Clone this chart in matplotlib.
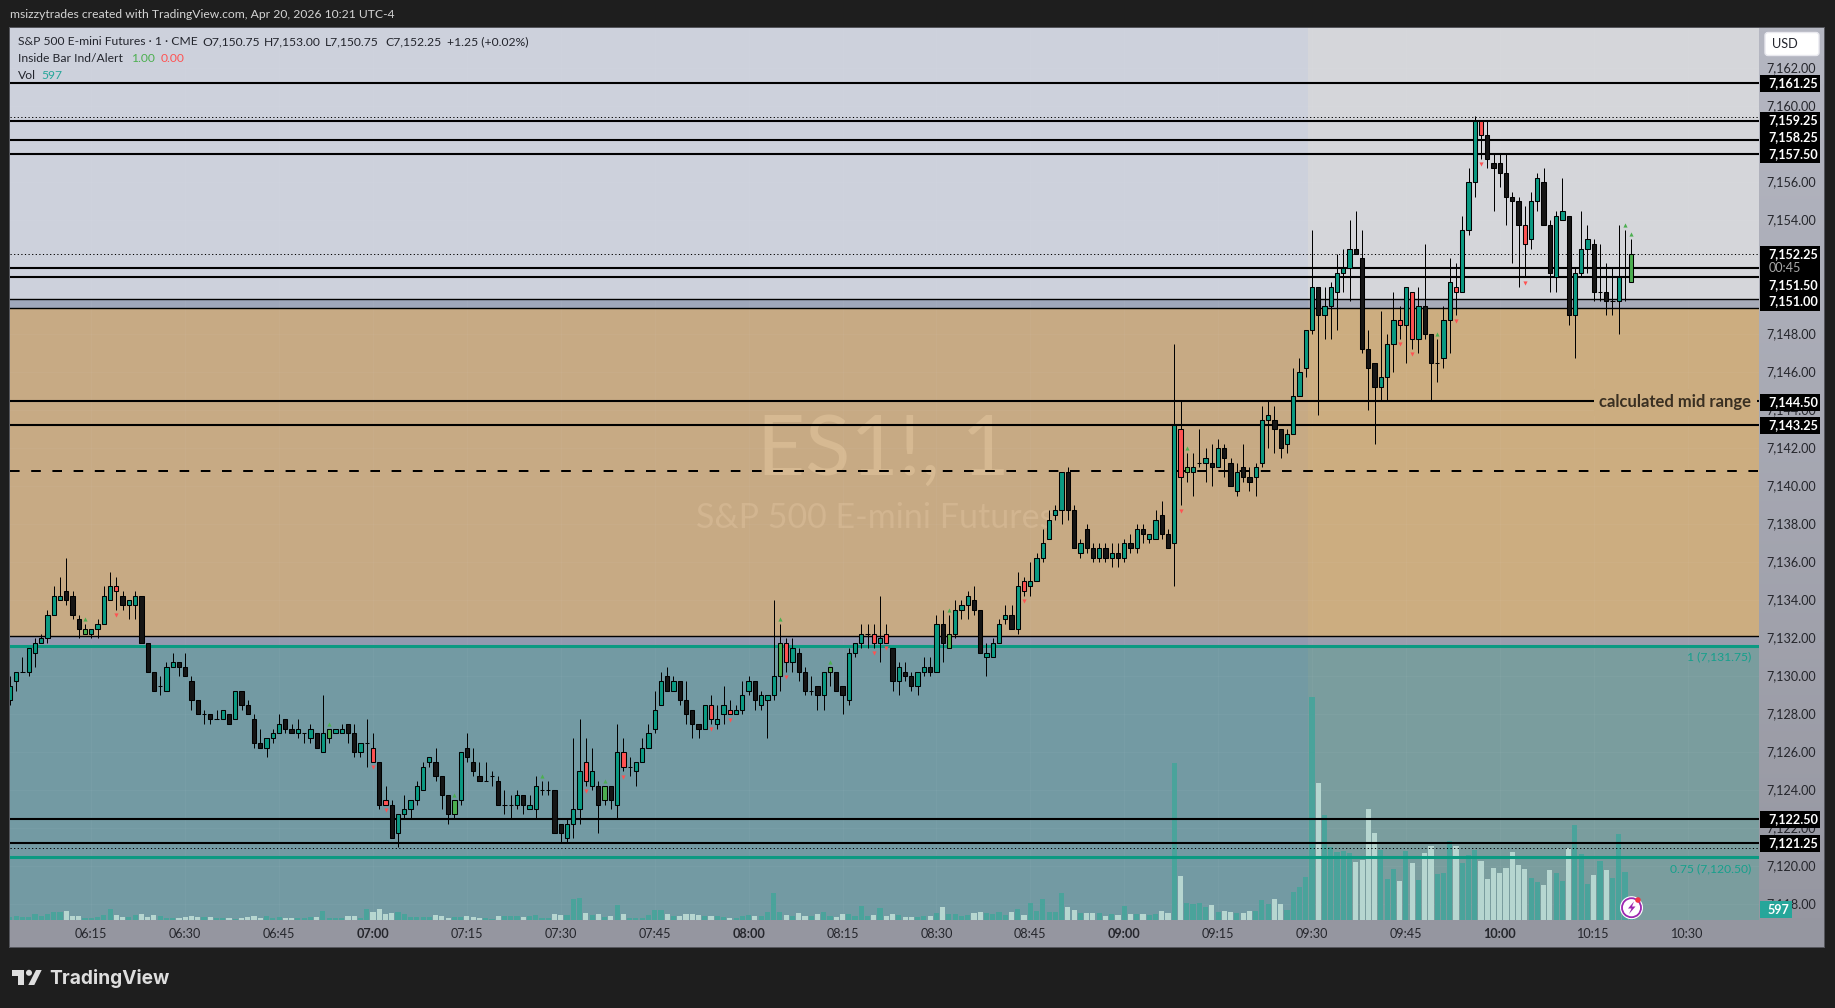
#!/usr/bin/env python3
import numpy as np
import matplotlib
matplotlib.use("Agg")
import matplotlib.pyplot as plt
from matplotlib.colors import LinearSegmentedColormap
from matplotlib.patches import Rectangle, Circle, Polygon, FancyBboxPatch
from matplotlib.transforms import Affine2D, ScaledTranslation

W, H = 1835, 1008
plt.rcParams['font.family'] = ['Lato', 'DejaVu Sans']

# ES1! 1 minute bars, prices are minus 7100, first bar is 06:02
FIRST_MINUTE = 362
PRICE_BASE = 7100
opens = [
    28.75, 29.75, 30.25, 30.25, 31.25, 31.75, 32, 33.25, 34, 34.5,
    34.25, 33, 32.25, 32.25, 32.5, 32.75, 34, 34.75, 34.25, 33.75,
    33.75, 34.25, 31.75, 30.25, 29.5, 29.25, 30.5, 30.75, 30.5, 29.75,
    28.75, 28, 28, 27.75, 27.75, 28, 27.75, 29.25, 28.5, 27.75,
    26.5, 26.25, 26.75, 27, 27.75, 27.25, 27, 27, 26.75, 27,
    26, 26.75, 27, 27, 27.5, 27, 26, 26.5, 26.25, 25.5,
    23.5, 23.25, 21.75, 22.75, 23, 23.5, 24, 25.5, 25.5, 24.75,
    23.75, 22.75, 23.5, 26.25, 25.5, 24.75, 24.5, 24.75, 24.5, 23.25,
    23.25, 23.25, 23.75, 23, 23, 24, 24, 24, 22.25, 21.5,
    22.25, 23, 25.5, 24.25, 24.25, 23.5, 24.25, 23.25, 26, 25.25,
    25, 25.5, 26.25, 27.25, 28.5, 30, 29.25, 29.75, 28.75, 28.25,
    27.5, 27.25, 28.5, 27.5, 28, 28.25, 28, 28.25, 29.25, 29.75,
    28.5, 28.75, 29, 30, 31.75, 30.75, 31.25, 30.25, 29.25, 29.5,
    29, 30.25, 30.25, 29.5, 28.75, 31.25, 31.75, 32.25, 32.25, 31.75,
    32.25, 31.5, 29.75, 30.25, 30, 29.5, 30.25, 30.5, 30.25, 32.75,
    31.5, 32.25, 33.5, 33.75, 34, 33.5, 31, 31, 31.75, 33,
    33.25, 32.5, 35, 34.75, 35, 36.25, 37.25, 38.5, 38.75, 40.75,
    38.75, 36.5, 37.75, 36.75, 36.25, 36.75, 36.25, 36.5, 36.25, 37,
    36.75, 37.75, 37.25, 37.25, 38.5, 37.5, 37, 43, 40.75, 40.75,
    41.25, 41.25, 41.25, 41, 42, 41.25, 39.75, 41, 40.5, 40.5,
    41.25, 43.5, 43.5, 43, 42.25, 42.75, 44.75, 46.25, 48.25, 50.5,
    49, 49.5, 50.25, 51.25, 51.5, 52.5, 52, 47.25, 46.5, 45.25,
    45.75, 47.5, 48.75, 48.5, 50.25, 47.75, 49.5, 48, 46.5, 46.75,
    48.75, 50.5, 50.25, 53.5, 56, 59.25, 58.5, 57, 57, 56.5,
    55.25, 55, 53.75, 53, 55, 56, 53.75, 51, 54, 54.25,
    49, 51.25, 52.5, 52.75, 50.25, 50.25, 49.75, 49.75, 51, 50.75,
]
highs = [
    30, 30.25, 31, 31.5, 32, 32.25, 33.5, 34.75, 35.25, 36.25,
    34.5, 33.25, 32.75, 32.5, 33, 34.75, 35.5, 35.25, 34.5, 34,
    34.5, 34.25, 31.75, 30.25, 30, 30.75, 31.25, 30.75, 31.25, 30,
    28.75, 28.25, 28, 28.25, 28.25, 28, 29.25, 29.25, 28.75, 28,
    27.25, 26.75, 27.25, 28, 27.75, 27.5, 27.75, 27, 27.5, 27,
    29, 27.25, 27.25, 27.5, 27.5, 27.5, 26.5, 27.75, 27, 25.5,
    24.25, 23.5, 22.75, 23.75, 23.5, 24.5, 25.5, 25.75, 26.25, 24.75,
    23.75, 23.5, 26, 27, 26.25, 25.5, 25.5, 25, 24.75, 24,
    23.75, 24, 23.75, 23.75, 24.75, 24.5, 24.5, 24, 22.25, 22.5,
    26.75, 27.75, 26.75, 26.25, 24.5, 24.25, 24.25, 27.5, 26.75, 25.75,
    25.5, 26.75, 27.5, 29.25, 30.25, 30.5, 30, 29.75, 29.75, 28.25,
    27.5, 28.5, 29, 28.5, 29.5, 28.75, 28.5, 29.75, 30, 29.75,
    29.25, 29, 34, 32.75, 32, 32, 31.5, 30.5, 30, 29.5,
    30.25, 30.5, 30.25, 29.5, 31.5, 31.75, 32.75, 32.75, 32.75, 34.25,
    32.75, 31.5, 30.75, 30.75, 30.25, 30.25, 31, 31, 33.25, 33.5,
    33.25, 34, 34, 34.5, 34.75, 33.5, 31.75, 32, 33, 33.75,
    33.75, 35.5, 35.25, 36, 36.5, 37.75, 38.75, 39, 40.75, 41,
    39, 37.25, 38, 37, 37, 37, 37, 37, 37.25, 37.5,
    38, 38, 37.5, 38.75, 39.25, 37.75, 47.5, 44.5, 41.75, 41.75,
    43, 42, 42.25, 42.5, 42.25, 41.5, 41.25, 42.25, 41, 41.25,
    44.25, 44.5, 44.25, 43, 43, 46.25, 46.75, 48.25, 53.5, 50.5,
    50.5, 50.75, 52.25, 52.5, 54, 54.5, 53.5, 48.25, 46.5, 49.25,
    48, 50.25, 49.5, 50.5, 50.25, 50.5, 52.75, 48, 47.75, 49.5,
    52, 51.75, 54.25, 56.75, 59.5, 59.25, 59.25, 57.5, 57.5, 57.5,
    55.5, 55.25, 54.75, 55.5, 56.5, 56.75, 54, 54.5, 56.25, 54.25,
    51.5, 54.5, 53.75, 53, 52.75, 51.75, 51.5, 53.75, 53.5, 53,
]
lows = [
    28.5, 29.25, 30.25, 30, 30.5, 31.75, 31.75, 33.25, 34, 33.75,
    33, 32, 32.25, 32, 32, 32.75, 34, 33.5, 33.5, 33,
    33, 31.75, 30.25, 29.25, 29, 29.25, 30.5, 30, 30, 28.25,
    28, 27.5, 27.5, 27.75, 27.75, 27.5, 27.75, 28.25, 28, 26.25,
    26.25, 25.75, 26.5, 27, 27, 27, 26.75, 26.5, 26.5, 26.25,
    26, 26.5, 27, 27, 26.5, 25.75, 25.75, 25.25, 25.5, 23,
    23.25, 21.5, 21, 22.5, 22.5, 23.25, 24, 25.25, 24.5, 23,
    22.25, 22.5, 23.25, 25.5, 24.75, 24.5, 24.5, 24.25, 23.25, 22.75,
    22.5, 23, 22.75, 23, 22.5, 23.75, 23.75, 21.75, 21.25, 21.25,
    21.5, 22.25, 24.25, 24, 21.75, 23.25, 23, 22.5, 25, 24.75,
    24.25, 25.5, 26.25, 27, 28.5, 29.25, 29.25, 28.5, 27.5, 26.75,
    26.75, 27.25, 27.5, 27.25, 27.5, 28, 28, 28, 29, 28.25,
    28.25, 26.75, 28.75, 29.25, 30.25, 30.25, 29.75, 29, 29, 28.25,
    28.25, 29.5, 29.25, 28, 28.5, 31, 31.5, 31.5, 31.5, 30.75,
    31.75, 29.25, 29, 29.75, 29.25, 29, 30, 30, 30.25, 30.75,
    31.5, 32, 33, 33, 33.25, 31.25, 30, 31, 31.75, 32.75,
    32.5, 32.25, 34.25, 34.25, 35, 36, 37.25, 38.25, 38, 38.25,
    36.75, 36.25, 36.5, 36, 36, 36, 35.75, 35.75, 36, 36.5,
    36.5, 37, 37, 37.25, 37.25, 36.75, 34.75, 39, 40.25, 39.5,
    41, 40.25, 40, 41, 40.5, 40, 39.5, 40.25, 39.75, 39.5,
    41, 42, 41.75, 41.5, 41.75, 42.75, 44.75, 45.75, 48, 43.75,
    47.75, 47.75, 48.25, 50.25, 49.75, 52.25, 47, 44, 42.25, 44.5,
    44.5, 46, 47.75, 46.5, 47.25, 47, 47.75, 44.5, 45.5, 46.25,
    47, 49, 50.25, 53.25, 55.25, 57.25, 56.75, 54.5, 55.75, 53.75,
    51.75, 50.5, 51, 52.5, 54.5, 53.75, 50.25, 50.25, 54, 48.5,
    46.75, 51, 51.25, 49.75, 49.75, 49, 49, 48, 49.75, 50.75,
]
closes = [
    29.5, 30.25, 30.25, 31.5, 31.75, 32, 33.25, 34.25, 34.25, 34,
    33.25, 32.5, 32.5, 32.5, 32.75, 34.25, 34.75, 34.5, 33.75, 34,
    34.25, 31.75, 30.25, 29.25, 29.5, 30.5, 30.75, 30.5, 30, 28.75,
    28, 28, 27.75, 27.75, 28.25, 27.5, 29.25, 28.5, 28, 26.5,
    26.25, 26.75, 27, 27.5, 27.25, 27, 27.25, 27, 27.25, 26.25,
    27, 27.25, 27.25, 27.25, 27, 26, 26.5, 26.5, 25.5, 23.25,
    23.25, 21.5, 22.75, 23, 23.5, 24.25, 25.25, 25.75, 24.75, 23.75,
    22.75, 23.5, 26, 25.75, 25, 24.5, 24.5, 24.75, 23.25, 23.25,
    23.25, 23.75, 23.25, 23.25, 24.25, 24, 24, 21.75, 21.75, 22.25,
    23, 25, 24.5, 25, 23.25, 24.25, 23.5, 26, 25.25, 25.25,
    25.5, 26.25, 27, 28.25, 29.75, 29.25, 29.75, 28.75, 28, 27.5,
    27.25, 28.5, 27.75, 27.75, 28.5, 28, 28.25, 29, 29.75, 28.75,
    29, 29, 30, 31.75, 30.75, 31.5, 30.25, 29.25, 29.25, 29,
    30.25, 30.5, 29.25, 29, 31.25, 31.75, 32.25, 32.25, 31.75, 32,
    31.75, 29.75, 30.5, 30, 29.5, 30.25, 30.5, 30.25, 32.75, 31.75,
    32.25, 33.5, 33.75, 34.25, 33.5, 31.25, 31.25, 31.75, 32.75, 33.25,
    32.5, 34.75, 34.5, 35, 36.25, 37, 38.25, 38.75, 40.75, 38.75,
    36.75, 37, 36.75, 36.25, 36.75, 36.25, 36.5, 36.25, 37, 36.75,
    37.75, 37.5, 37.5, 38.25, 37.5, 36.75, 43.25, 40.5, 41, 41,
    41.25, 41.5, 41, 42, 41.5, 40, 40.75, 40.5, 40.25, 41,
    43.5, 43.75, 43, 42, 42.75, 44.75, 46, 48.25, 50.5, 49,
    49.5, 50.5, 51.25, 51.5, 52.5, 52.25, 47.25, 46.25, 45.25, 45.75,
    47.5, 48.75, 48.5, 50.5, 47.75, 49.5, 48, 46.5, 46.5, 48.75,
    50.75, 50.25, 53.5, 56, 59.25, 58.5, 57.25, 56.75, 56.5, 55.25,
    55, 53.75, 52.75, 55, 56.25, 53.75, 51.25, 54.25, 54.5, 49,
    51.25, 52.5, 53, 50.25, 50.25, 49.75, 49.75, 51, 51, 52.25,
]
volumes = [
    162, 216, 162, 162, 324, 234, 324, 450, 450, 486,
    234, 216, 108, 108, 162, 252, 594, 288, 162, 162,
    270, 324, 180, 270, 216, 108, 108, 108, 162, 216,
    180, 162, 162, 108, 108, 108, 54, 108, 180, 216,
    108, 216, 108, 162, 108, 108, 108, 108, 162, 162,
    486, 108, 108, 108, 216, 216, 108, 576, 450, 594,
    324, 378, 450, 324, 162, 162, 162, 162, 270, 216,
    108, 162, 162, 216, 162, 108, 108, 54, 216, 216,
    216, 216, 162, 216, 270, 108, 108, 324, 270, 270,
    1116, 1170, 378, 270, 324, 162, 216, 810, 324, 108,
    108, 108, 270, 540, 540, 324, 216, 216, 324, 324,
    270, 216, 216, 216, 162, 108, 108, 216, 270, 216,
    216, 450, 1440, 450, 270, 216, 378, 234, 216, 324,
    432, 216, 162, 324, 324, 216, 756, 216, 270, 648,
    216, 324, 270, 162, 162, 162, 216, 216, 378, 702,
    324, 324, 216, 270, 378, 432, 378, 324, 432, 270,
    432, 594, 270, 918, 486, 1116, 432, 432, 1458, 720,
    558, 378, 378, 378, 378, 216, 324, 270, 756, 324,
    324, 324, 270, 324, 486, 378, 8478, 2376, 900, 864,
    918, 684, 810, 450, 486, 432, 360, 378, 486, 486,
    1080, 864, 1134, 864, 540, 1512, 1782, 2322, 12060, 7398,
    5670, 3924, 3672, 3708, 3618, 3132, 3240, 5976, 4680, 3780,
    2214, 2754, 2106, 3708, 3078, 2160, 3618, 3996, 2484, 2538,
    4248, 3996, 3078, 3492, 3780, 3186, 2214, 2808, 2538, 2808,
    3672, 2970, 2754, 2268, 2052, 1890, 2700, 2538, 2106, 3888,
    5130, 3564, 1944, 2430, 3186, 2700, 2268, 4644, 2592, 597,
]
# minutes of the day flagged by the inside bar indicator
inside_up = [374, 413, 433, 447, 457, 485, 493, 512, 550, 590, 620, 621]
inside_down = [379, 420, 422, 454, 460, 474, 477, 486, 500, 502, 524, 549,
               584, 586, 593, 597, 604]

solid_levels = [7161.25, 7159.25, 7158.25, 7157.5, 7151.5, 7151.0, 7144.5,
                7143.25, 7122.5, 7121.25]
dotted_levels = [7159.46, 7152.25, 7120.95]
dashed_level = 7140.83
box_edges = [7149.85, 7149.37, 7132.15]
fib_levels = [7131.6, 7120.48]

price_ticks = list(range(7118, 7163, 2))
hidden_ticks = [7150, 7152, 7158]  # fully covered by the price tags
time_ticks = list(range(375, 631, 15))
price_tags = ["7,161.25", "7,159.25", "7,158.25", "7,157.50", "7,152.25",
              "7,151.50", "7,151.00", "7,144.50", "7,143.25", "7,122.50",
              "7,121.25"]
tag_rows = [83, 120, 137, 153.7, 254, 284.7, 301.5, 402, 425, 819, 843]
tag_blocks = [(75, 91.7), (112, 162.7), (246, 310.7), (394, 410.7),
              (417, 433.7), (811, 827.7), (835, 851.7)]

# chart geometry in image pixels
LEFT, RIGHT, TOP, BOTTOM = 10.3, 1759, 27.5, 920
AXIS_RIGHT, AXIS_BOTTOM = 1824, 947
SESSION_X = 569.4
PX_PER_PT = 19.0
CONTRACTS_PER_PX = 54.0
LEGEND_SIZE = 8.7

TEAL = '#0b9a82'
BLACK = '#151515'
GREEN = '#4caf50'
RED = '#ff5252'
TEXT = '#23252d'

minutes = np.arange(FIRST_MINUTE, FIRST_MINUTE + len(opens))
o = np.array(opens) + PRICE_BASE
h_ = np.array(highs) + PRICE_BASE
l_ = np.array(lows) + PRICE_BASE
c = np.array(closes) + PRICE_BASE
vol = np.array(volumes, dtype=float)

fig = plt.figure(figsize=(W / 100, H / 100), dpi=100, facecolor='#1e1e1e')
px = Affine2D().scale(1, -1).translate(0, H)


def fig_text(x, y, s, **kw):
    kw.setdefault('va', 'center')
    kw.setdefault('ha', 'left')
    kw.setdefault('fontsize', LEGEND_SIZE)
    kw.setdefault('color', TEXT)
    return fig.text(x, y, s, transform=px, **kw)


def fig_rect(x0, y0, x1, y1, **kw):
    fig.add_artist(Rectangle((x0, y0), x1 - x0, y1 - y0, transform=px, lw=0, **kw))


# frame and axis strips
fig_rect(9.3, 26.5, AXIS_RIGHT + 1, AXIS_BOTTOM + 1, fc='#55565c', zorder=-3)
strip = fig.add_axes([LEFT / W, 1 - AXIS_BOTTOM / H, (AXIS_RIGHT - LEFT) / W,
                      (AXIS_BOTTOM - TOP) / H], zorder=-2)
strip.imshow(np.linspace(0, 1, 256)[:, None], aspect='auto',
             cmap=LinearSegmentedColormap.from_list('s', ['#b5b7c2', '#9596a0']))
strip.axis('off')

ax = fig.add_axes([LEFT / W, 1 - BOTTOM / H, (RIGHT - LEFT) / W, (BOTTOM - TOP) / H])
ymax = 7162 + (68.4 - TOP) / PX_PER_PT
ymin = 7162 - (BOTTOM - 68.4) / PX_PER_PT
xmin = 570 + (LEFT - 1312) / 6.26
xmax = 570 + (RIGHT - 1312) / 6.26
ax.set_xlim(xmin, xmax)
ax.set_ylim(ymin, ymax)
ax.patch.set_alpha(0)
for s in ax.spines.values():
    s.set_visible(False)

# background boxes, the regular session part is slightly lighter
bands = [
    (box_edges[0], ymax, '#cdd1dc', '#d5d6da'),
    (box_edges[1], box_edges[0], '#9fa7bb', '#a7abb9'),
    (box_edges[2], box_edges[1], '#c7aa84', '#ccad80'),
    (fib_levels[0], box_edges[2], '#9299b0', '#9a9dae'),
    (ymin, fib_levels[0], '#739aa3', '#7a9d9e'),
]
for lo, hi, left_c, right_c in bands:
    ax.fill_between([xmin, SESSION_X], lo, hi, color=left_c, lw=0, zorder=0)
    ax.fill_between([SESSION_X, xmax], lo, hi, color=right_c, lw=0, zorder=0)

# watermark
ax.text(0.499, 0.5244, "ES1!, 1", transform=ax.transAxes, fontsize=60, color='#d6b992',
        ha='center', va='center', zorder=1)
ax.text(0.4945, 0.4504, "S&P 500 E-mini Futures", transform=ax.transAxes, fontsize=24.5,
        color='#d2b590', ha='center', va='center', zorder=1)

ax.set_xticks(time_ticks)
ax.set_xticklabels(['%02d:%02d' % (m // 60, m % 60) for m in time_ticks])
ax.set_yticks(price_ticks)
ax.set_yticklabels(['' if p in hidden_ticks else '{:,.2f}'.format(p) for p in price_ticks])
ax.yaxis.tick_right()
ax.tick_params(axis='both', length=0, labelsize=9.1, labelcolor='#25262c')
ax.tick_params(axis='x', pad=6)
ax.tick_params(axis='y', pad=5)
for m, lab in zip(time_ticks, ax.get_xticklabels()):
    if m % 60 == 0:
        lab.set_fontweight('bold')
label_shift = ScaledTranslation(0, 1.2 / 100, fig.dpi_scale_trans)
for lab in ax.get_yticklabels():
    lab.set_verticalalignment('center_baseline')
    lab.set_transform(lab.get_transform() + label_shift)
ax.grid(True, color='white', alpha=0.035, lw=0.7, zorder=0.5)

# volume sits on the price axes, scaled to the pane
pts_per_contract = 1 / (CONTRACTS_PER_PX * PX_PER_PT)
vol_colors = ['#4aa39b' if cc >= oo else '#b6d6d0' for oo, cc in zip(o, c)]
ax.bar(minutes, vol * pts_per_contract, bottom=ymin, width=0.82, color=vol_colors, lw=0, zorder=2)

# levels
for lv in solid_levels:
    ax.axhline(lv, color='black', lw=1.5, zorder=3)
for lv in dotted_levels:
    ax.axhline(lv, color='black', lw=0.72, ls=(0, (1.2, 2.4)), zorder=3)
for lv in box_edges:
    ax.axhline(lv, color='black', lw=1.0, zorder=3)
ax.plot([xmin, xmax], [dashed_level] * 2, color='black', lw=1.44,
        ls=(0, (4.8, 5.8)), zorder=3, dash_capstyle='butt')
for lv in fib_levels:
    ax.axhline(lv, color=TEAL, lw=2.2, zorder=3)

# candles
body_colors = []
for m, oo, cc in zip(minutes, o, c):
    if m in inside_up:
        body_colors.append(GREEN)
    elif m in inside_down:
        body_colors.append(RED)
    elif cc >= oo:
        body_colors.append(TEAL)
    else:
        body_colors.append(BLACK)
ax.vlines(minutes, l_, h_, color='black', lw=0.72, zorder=4)
ax.bar(minutes, np.abs(c - o), bottom=np.minimum(o, c), width=0.68, color=body_colors,
       edgecolor='black', lw=0.75, zorder=5)

up_idx = [m - FIRST_MINUTE for m in inside_up]
down_idx = [m - FIRST_MINUTE for m in inside_down]
ax.scatter(minutes[up_idx], h_[up_idx] + 0.27, marker='^', s=9, color=GREEN, lw=0, zorder=6)
ax.scatter(minutes[down_idx], l_[down_idx] - 0.27, marker='v', s=9, color=RED, lw=0, zorder=6)

# price tags
for y0, y1 in tag_blocks:
    fig_rect(1760, y0, 1820, y1, fc='black', zorder=5)
for label, y in zip(price_tags, tag_rows):
    fig_text(1768.5, y, label, fontsize=9.1, color='white', fontweight='bold', zorder=6)
fig_text(1768.5, 268, "00:45", fontsize=9.1, color='#a8a8a8', zorder=6)
fig_rect(1760, 901, 1792, 918, fc='#26a69a', zorder=5)
fig_text(1768, 909.5, "597", fontsize=9.1, color='white', fontweight='bold', zorder=6)

fig.add_artist(FancyBboxPatch((1765, 32.5), 54, 23, boxstyle='round,pad=0,rounding_size=3',
                              transform=px, fc='white', ec='#e8e8ee', lw=1, zorder=5))
fig_text(1772, 44.5, "USD", fontsize=9.2, zorder=6)

# labels on the chart
fig_text(1751, 402.5, "calculated mid range", ha='right', fontweight='bold', fontsize=12, color='#3a3022',
         zorder=6, bbox=dict(fc='#ccad80', ec='none', pad=4))
fig_text(1751, 657, "1 (7,131.75)", ha='right', color='#16a08c', zorder=6)
fig_text(1751, 869, "0.75 (7,120.50)", ha='right', color='#16a08c', zorder=6)

# legend block
fig_text(10, 15, "msizzytrades created with TradingView.com, Apr 20, 2026 10:21 UTC-4", color='#d4d4d4')
fig_text(17.8, 41.7, "S&P 500 E-mini Futures \u00b7 1 \u00b7 CME")
for x, s in zip([202, 264, 325, 385.5, 447],
                ["O7,150.75", "H7,153.00", "L7,150.75", "C7,152.25", "+1.25 (+0.02%)"]):
    fig_text(x, 41.7, s)
fig_text(17.8, 58.7, "Inside Bar Ind/Alert")
fig_text(131, 58.7, "1.00", color=GREEN)
fig_text(161, 58.7, "0.00", color=RED)
fig_text(17.8, 75.7, "Vol")
fig_text(41.5, 75.7, "597", color='#26a69a')

# alert icon
fig.add_artist(Circle((1631.5, 907.7), 11.5, transform=px, fc='white', ec='none', zorder=6))
fig.add_artist(Circle((1631.5, 907.7), 9.5, transform=px, fc='white', ec='#9c27b0', lw=1.3, zorder=6))
fig.add_artist(Polygon([(1634, 901.5), (1628, 908.5), (1631.5, 908.5), (1629, 914), (1635.5, 906.5), (1632, 906.5)],
                       transform=px, fc='#9c27b0', ec='none', zorder=7))
fig.add_artist(Circle((1638, 900), 2.8, transform=px, fc='#f23645', ec='none', zorder=7))

# TradingView logo
for pts in ([(12, 970), (24, 970), (24, 985), (18, 985), (18, 975.7), (12, 975.7)],
            [(36, 970), (41.7, 970), (34.3, 985), (28.3, 985)]):
    fig.add_artist(Polygon(pts, transform=px, fc='#dedede', ec='none'))
fig.add_artist(Circle((29, 972.8), 3, transform=px, fc='#dedede', ec='none'))
fig_text(49, 979, "TradingView", fontsize=13.8, fontweight='bold', color='#dedede', family=['Inter', 'DejaVu Sans'])

fig.savefig('out.png', dpi=100, facecolor=fig.get_facecolor())
